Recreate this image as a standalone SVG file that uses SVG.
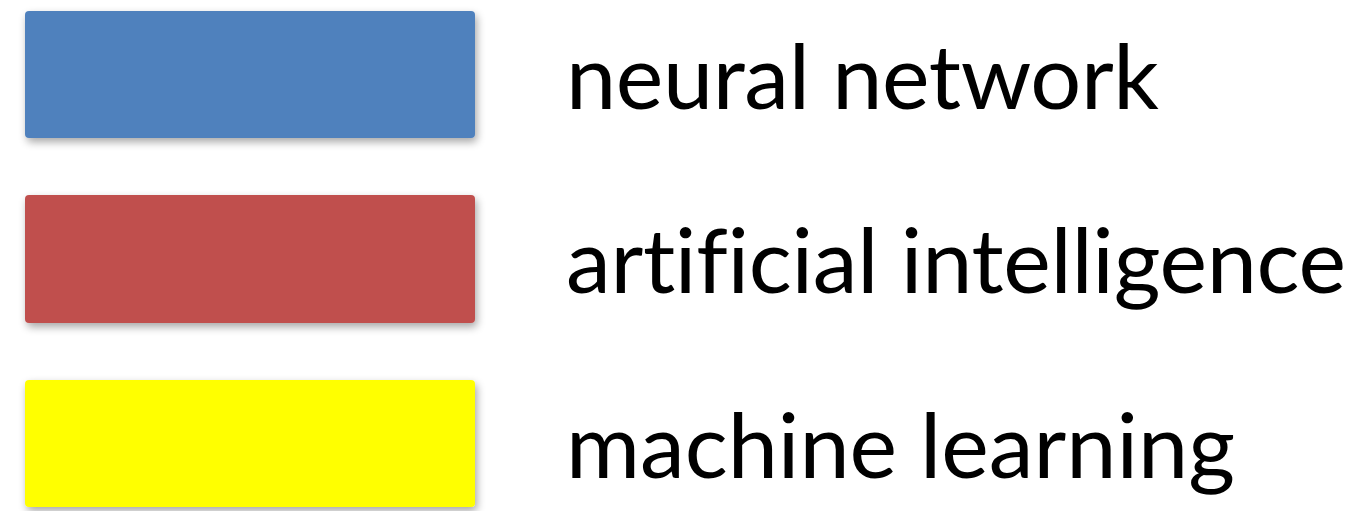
<svg xmlns="http://www.w3.org/2000/svg" width="1364" height="511" viewBox="0 0 1364 511">
  <defs>
    <filter id="shadow" x="-10%" y="-20%" width="120%" height="150%">
      <feGaussianBlur in="SourceAlpha" stdDeviation="4"/>
      <feOffset dx="2" dy="4" result="blur"/>
      <feComponentTransfer><feFuncA type="linear" slope="0.35"/></feComponentTransfer>
      <feMerge><feMergeNode/><feMergeNode in="SourceGraphic"/></feMerge>
    </filter>
  </defs>
  <style>
    .swatch { filter: url(#shadow); }
    .label { font-family: Lato, "Open Sans", sans-serif; font-size: 90px; fill: #000; font-variant-ligatures: none; }
  </style>
  <rect width="1364" height="511" fill="#fff"/>
  <g id="legend-neural-network">
    <rect class="swatch" x="25" y="11" width="450" height="127" rx="4" fill="#4f81bd"/>
    <text class="label" x="566" y="109" textLength="593">neural network</text>
  </g>
  <g id="legend-artificial-intelligence">
    <rect class="swatch" x="25" y="195" width="450" height="128" rx="4" fill="#c0504d"/>
    <text class="label" x="566" y="293" textLength="780">artificial intelligence</text>
  </g>
  <g id="legend-machine-learning">
    <rect class="swatch" x="25" y="380" width="450" height="127" rx="4" fill="#ffff00"/>
    <text class="label" x="566" y="478" textLength="669">machine learning</text>
  </g>
</svg>
